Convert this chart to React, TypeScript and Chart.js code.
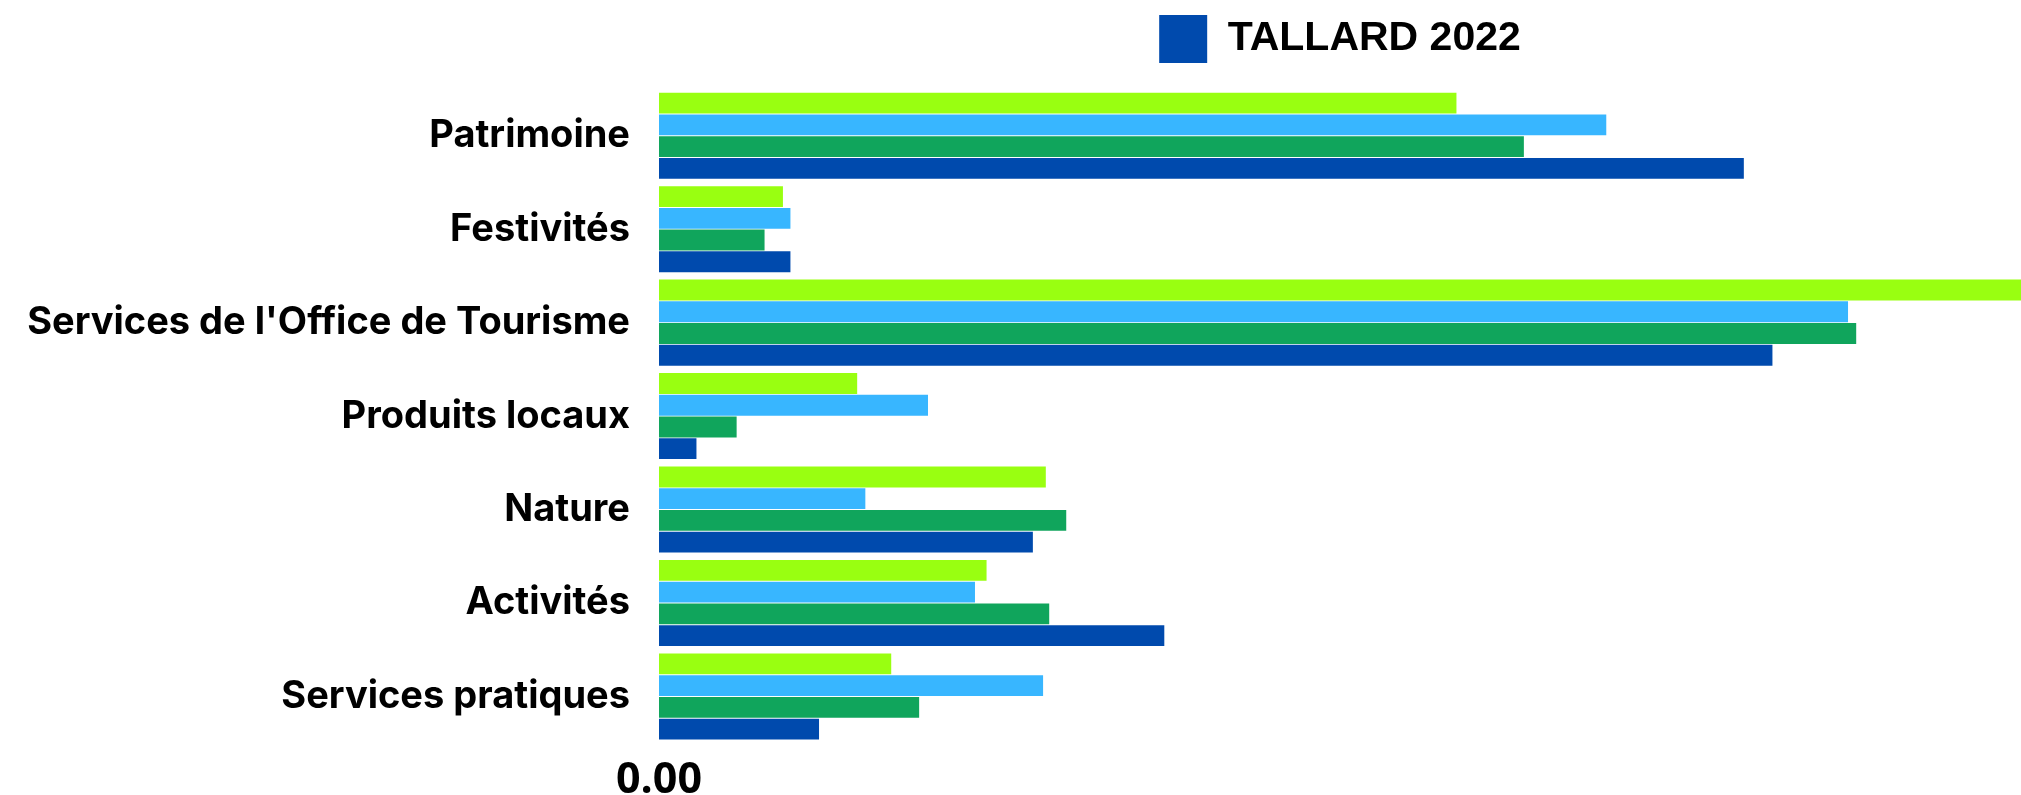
import React, { useEffect, useRef } from "react";
import { Chart, registerables } from "chart.js";

Chart.register(...registerables);

const categories = [
  "Patrimoine",
  "Festivités",
  "Services de l'Office de Tourisme",
  "Produits locaux",
  "Nature",
  "Activités",
  "Services pratiques",
];

const seriesNames = ["TALLARD 2019", "TALLARD 2020", "TALLARD 2021", "TALLARD 2022"];
const seriesColors = ["#99ff11", "#38b6ff", "#10a55c", "#004aad"];

const values2019 = [11.71, 1.82, 20.0, 2.91, 5.68, 4.81, 3.41];
const values2020 = [13.91, 1.93, 17.46, 3.95, 3.03, 4.64, 5.64];
const values2021 = [12.7, 1.55, 17.58, 1.14, 5.98, 5.73, 3.82];
const values2022 = [15.93, 1.93, 16.35, 0.55, 5.49, 7.42, 2.35];

const axisMin = 0;
const axisMax = 20;

const legendSpacer = {
  id: "legendSpacer",
  beforeInit(chart: any) {
    const legend = chart.legend;
    if (!legend || legend._spacerPatched) return;
    const origFit = legend.fit;
    legend.fit = function () {
      origFit.call(this);
      this.height += 16;
    };
    legend._spacerPatched = true;
  },
};

export default function App() {
  const ref = useRef<HTMLCanvasElement | null>(null);

  useEffect(() => {
    if (!ref.current) return;
    const all = [values2019, values2020, values2021, values2022];
    const chart = new Chart(ref.current, {
      type: "bar",
      data: {
        labels: categories,
        datasets: all.map((vals, i) => ({
          label: seriesNames[i],
          data: vals,
          backgroundColor: seriesColors[i],
          borderWidth: 0,
          categoryPercentage: 0.93,
          barPercentage: 0.96,
        })),
      },
      plugins: [legendSpacer],
      options: {
        indexAxis: "y",
        animation: false,
        responsive: true,
        maintainAspectRatio: false,
        layout: { padding: { left: 0, right: 0, top: 5, bottom: 0 } },
        plugins: {
          tooltip: { enabled: false },
          legend: {
            display: true,
            position: "top",
            fullSize: false,
            labels: {
              filter: (item: any) => item.text === "TALLARD 2022",
              boxWidth: 48,
              boxHeight: 48,
              color: "#000",
              padding: 10,
              font: { family: "'Liberation Sans', Arial, sans-serif", size: 41, weight: "bold" },
            },
          },
        },
        scales: {
          x: {
            min: axisMin,
            max: axisMax,
            grid: { display: false, drawTicks: false },
            border: { display: false },
            afterFit: (scale: any) => {
              scale.height = 50;
              scale.paddingRight = 0;
            },
            ticks: {
              padding: 12,
              color: "#000",
              font: { family: "'Open Sans', sans-serif", size: 43, weight: "bold" },
              callback: (v: any, idx: number) => (idx === 0 ? Number(v).toFixed(2) : ""),
              maxRotation: 0,
            },
          },
          y: {
            grid: { display: false, drawTicks: false },
            border: { display: false },
            afterFit: (scale: any) => {
              scale.width = 659;
            },
            ticks: {
              padding: 29,
              color: "#000",
              font: { family: "Inter, sans-serif", size: 38, weight: "bold" },
            },
          },
        },
      },
    } as any);
    return () => chart.destroy();
  }, []);

  return (
    <div style={{ position: "fixed", left: 0, top: 0, width: 2021, height: 795, background: "#fff" }}>
      <canvas ref={ref} />
    </div>
  );
}
